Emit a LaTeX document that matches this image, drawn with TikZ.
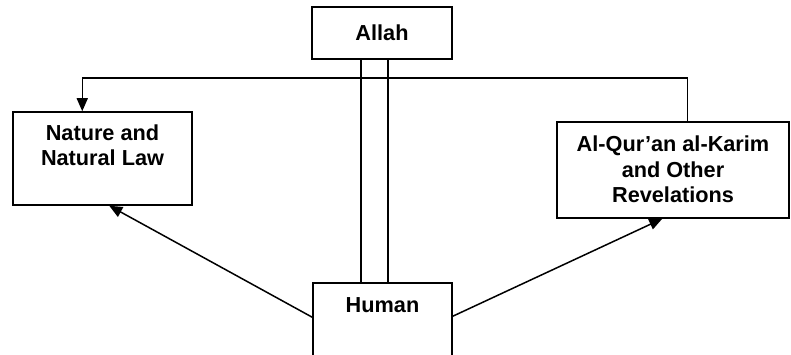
\documentclass[tikz,border=0pt]{standalone}
\usepackage{fontspec}
\setmainfont{Liberation Sans}
\usetikzlibrary{arrows.meta,calc}
\begin{document}
\begin{tikzpicture}[x=1pt,y=1pt,
  box/.style={draw, line width=1.5pt, rectangle, inner sep=0pt},
  lbl/.style={font=\bfseries\fontsize{21.7}{25.5}\selectfont, align=center, inner sep=0pt},
  link/.style={line width=1.5pt},
  arr/.style={link, -{Triangle[length=13pt,width=11pt]}}]
\useasboundingbox (0,0) rectangle (791,355);
\clip (0,0) rectangle (791,355);
% boxes
\node[box, lbl, minimum width=140pt, minimum height=52pt] (allah) at (382,322) {Allah};
\node[box, minimum width=179pt, minimum height=93pt] (nature) at (102.5,196.5) {};
\node[box, minimum width=232pt, minimum height=96pt] (quran) at (673,185) {};
\node[box, minimum width=139pt, minimum height=100pt] (human) at (382.5,22) {};
% labels (anchor=base is the baseline of the last line)
\node[lbl, anchor=base] (tnature) at (102.5,189) {Nature and\\Natural Law};
\node[lbl, anchor=base] (tquran) at (673,152) {Al-Qur’an al-Karim\\and Other\\Revelations};
\node[lbl, anchor=base] (thuman) at (382.5,42) {Human};
% coordinates
\coordinate (qtop) at ($(quran.north west)+(131pt,0)$);
\coordinate (ntop) at ($(nature.north west)+(70pt,0)$);
\coordinate (hl) at ($(human.north west)+(0,-35pt)$);
\coordinate (hr) at ($(human.north east)+(0,-34pt)$);
\coordinate (nb) at ($(nature.south west)+(97pt,0)$);
\coordinate (qb) at ($(quran.south west)+(106pt,0)$);
% connectors
\draw[arr] (qtop) -- (qtop |- 0,277) -- (ntop |- 0,277) -- (ntop);
\draw[link] ($(allah.south)+(-21pt,0)$) -- ($(human.north)+(-21.5pt,0)$);
\draw[link] ($(allah.south)+(6pt,0)$) -- ($(human.north)+(5.5pt,0)$);
\draw[arr] (hl) -- (nb);
\draw[arr] (hr) -- (qb);
\end{tikzpicture}
\end{document}
